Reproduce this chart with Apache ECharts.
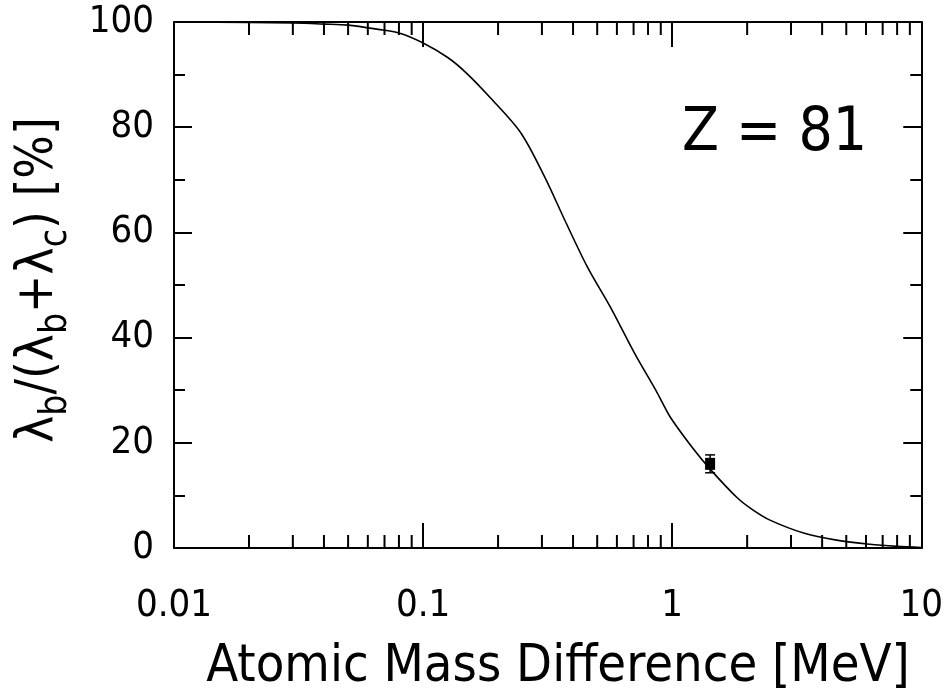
<!DOCTYPE html>
<html>
<head>
<meta charset="utf-8">
<script src="https://cdn.jsdelivr.net/npm/echarts@6/dist/echarts.min.js"></script>
<style>
  html, body { margin: 0; padding: 0; background: #fff; }
  #chart { width: 946px; height: 693px; }
</style>
</head>
<body>
<div id="chart"></div>
<script>
// Branching ratio curve: atomic mass difference (MeV) vs percentage
const curveX = [0.01, 0.02, 0.03, 0.04, 0.05, 0.066, 0.08, 0.1, 0.126, 0.15,
  0.187, 0.247, 0.308, 0.37, 0.457, 0.565, 0.705, 0.871, 0.982, 1.2, 1.42,
  1.82, 2.1, 2.47, 3.37, 4.57, 6.2, 8.0, 10];
const curveY = [100, 99.9, 99.8, 99.6, 99.4, 98.6, 97.9, 96.0, 93.2, 90.2,
  85.5, 78.9, 70.5, 62.4, 53.4, 45.8, 37.1, 29.5, 24.9, 19.2, 15.0,
  9.6, 7.3, 5.3, 2.85, 1.5, 0.7, 0.3, 0.1];

// Measured point with its uncertainty
const pointX = [1.42];
const pointY = [16.0];
const pointErr = [1.7];

// Axis decorations
const xTickLabels = ['0.01', '0.1', '1', '10'];
const xMinorTicks = [0.02, 0.03, 0.04, 0.05, 0.06, 0.07, 0.08, 0.09,
  0.2, 0.3, 0.4, 0.5, 0.6, 0.7, 0.8, 0.9,
  2, 3, 4, 5, 6, 7, 8, 9];
const yTickLabels = ['0', '20', '40', '60', '80', '100'];

const FONT = '"Liberation Sans Narrow", "DejaVu Sans Condensed", "Liberation Sans", sans-serif';
const INK = '#000';

const chart = echarts.init(document.getElementById('chart'), null, { renderer: 'canvas' });

const axisLine = { show: true, onZero: false, lineStyle: { color: INK, width: 2 } };

const option = {
  animation: false,
  backgroundColor: '#fff',
  grid: { left: 174, right: 21, top: 22, bottom: 145, containLabel: false },
  xAxis: [
    {
      type: 'log', logBase: 10, min: 0.01, max: 10, position: 'bottom',
      axisLine: axisLine,
      axisTick: { show: true, inside: true, length: 25, lineStyle: { color: INK, width: 2 } },
      axisLabel: {
        show: true, margin: 39, color: INK, fontFamily: FONT, fontSize: 38,
        formatter: function (v) { return xTickLabels[Math.round(Math.log10(v)) + 2]; }
      },
      splitLine: { show: false }
    },
    {
      type: 'log', logBase: 10, min: 0.01, max: 10, position: 'top',
      axisLine: axisLine,
      axisTick: { show: true, inside: true, length: 25, lineStyle: { color: INK, width: 2 } },
      axisLabel: { show: false },
      splitLine: { show: false }
    }
  ],
  yAxis: [
    {
      type: 'value', min: 0, max: 100, interval: 20, position: 'left',
      axisLine: axisLine,
      axisTick: { show: true, inside: true, length: 18, lineStyle: { color: INK, width: 2 } },
      minorTick: { show: true, splitNumber: 2, length: 11, lineStyle: { color: INK, width: 2 } },
      axisLabel: {
        show: true, margin: 20, color: INK, fontFamily: FONT, fontSize: 38,
        formatter: function (v) { return yTickLabels[Math.round(v / 20)]; }
      },
      splitLine: { show: false }
    },
    {
      type: 'value', min: 0, max: 100, interval: 20, position: 'right',
      axisLine: axisLine,
      axisTick: { show: true, inside: true, length: 18, lineStyle: { color: INK, width: 2 } },
      minorTick: { show: true, splitNumber: 2, length: 11, lineStyle: { color: INK, width: 2 } },
      axisLabel: { show: false },
      splitLine: { show: false }
    }
  ],
  series: [
    {
      type: 'line',
      xAxisIndex: 0, yAxisIndex: 0,
      data: curveX.map(function (x, i) { return [x, curveY[i]]; }),
      showSymbol: false,
      smooth: 0.3,
      lineStyle: { color: INK, width: 1.6 },
      z: 3
    },
    {
      // minor decade ticks on the bottom and top edges
      type: 'custom',
      xAxisIndex: 0, yAxisIndex: 0,
      data: xMinorTicks.map(function (v) { return [v]; }),
      clip: false,
      silent: true,
      renderItem: function (params, api) {
        const b = api.coord([api.value(0), 0]);
        const t = api.coord([api.value(0), 100]);
        const len = 13;
        return {
          type: 'group',
          children: [
            { type: 'line', shape: { x1: b[0], y1: b[1], x2: b[0], y2: b[1] - len },
              style: { stroke: INK, lineWidth: 2 } },
            { type: 'line', shape: { x1: t[0], y1: t[1], x2: t[0], y2: t[1] + len },
              style: { stroke: INK, lineWidth: 2 } }
          ]
        };
      },
      z: 4
    },
    {
      // measured value with error bar
      type: 'custom',
      xAxisIndex: 0, yAxisIndex: 0,
      data: pointX.map(function (x, i) { return [x, pointY[i], pointErr[i]]; }),
      renderItem: function (params, api) {
        const x = api.value(0), y = api.value(1), e = api.value(2);
        const c = api.coord([x, y]);
        const hi = api.coord([x, y + e]);
        const lo = api.coord([x, y - e]);
        const cap = 5;
        const st = { stroke: INK, lineWidth: 1.5 };
        return {
          type: 'group',
          children: [
            { type: 'line', shape: { x1: c[0], y1: hi[1], x2: c[0], y2: lo[1] }, style: st },
            { type: 'line', shape: { x1: c[0] - cap, y1: hi[1], x2: c[0] + cap, y2: hi[1] }, style: st },
            { type: 'line', shape: { x1: c[0] - cap, y1: lo[1], x2: c[0] + cap, y2: lo[1] }, style: st },
            { type: 'rect', shape: { x: c[0] - 5, y: c[1] - 6, width: 10, height: 12 },
              style: { fill: INK } }
          ]
        };
      },
      z: 5
    }
  ],
  graphic: [
    {
      type: 'text', x: 558, y: 641,
      style: {
        text: 'Atomic Mass Difference [MeV]',
        align: 'center', verticalAlign: 'top',
        fontFamily: FONT, fontSize: 52, fill: INK
      }
    },
    {
      type: 'text', x: 682, y: 104,
      style: {
        text: 'Z = 81',
        fontFamily: FONT, fontSize: 60, fill: INK
      }
    },
    {
      type: 'text', x: 39, y: 280, rotation: Math.PI / 2,
      style: {
        text: '{m|λ}{s|b}{m|/(λ}{s|b}{m|+λ}{s|c}{m|) [%]}',
        align: 'center', verticalAlign: 'middle',
        fill: INK,
        rich: {
          m: { fontFamily: FONT, fontSize: 51, lineHeight: 51, verticalAlign: 'top', fill: INK },
          s: { fontFamily: FONT, fontSize: 37, lineHeight: 37, verticalAlign: 'top',
               padding: [24, 0, 0, 0], fill: INK }
        }
      }
    }
  ]
};

chart.setOption(option);
</script>
</body>
</html>
